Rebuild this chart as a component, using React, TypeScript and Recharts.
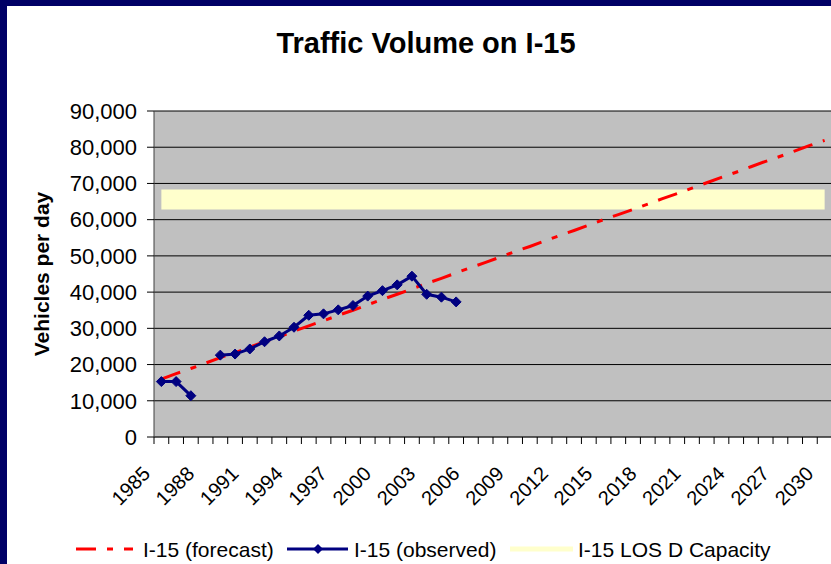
import React from 'react';
import { ComposedChart, Line, XAxis, YAxis, CartesianGrid } from 'recharts';

// ---- Data ----
const years = [
  1985, 1986, 1987, 1988, 1989, 1990, 1991, 1992, 1993, 1994,
  1995, 1996, 1997, 1998, 1999, 2000, 2001, 2002, 2003, 2004,
  2005, 2006, 2007, 2008, 2009, 2010, 2011, 2012, 2013, 2014,
  2015, 2016, 2017, 2018, 2019, 2020, 2021, 2022, 2023, 2024,
  2025, 2026, 2027, 2028, 2029, 2030,
];

const forecast = [
  16000, 17500, 18900, 20400, 21900, 23300, 24800, 26300, 27700, 29200,
  30700, 32100, 33600, 35000, 36500, 38000, 39400, 40900, 42400, 43800,
  45300, 46800, 48200, 49700, 51200, 52600, 54100, 55600, 57000, 58500,
  60000, 61400, 62800, 64300, 65800, 67200, 68700, 70200, 71700, 73100,
  74600, 76100, 77500, 79000, 80500, 81900,
];

const observedYears = [
  1985, 1986, 1987, 1988, 1989, 1990, 1991, 1992, 1993, 1994,
  1995, 1996, 1997, 1998, 1999, 2000, 2001, 2002, 2003, 2004, 2005,
];
const observed: (number | null)[] = [
  15300, 15300, 11400, null, 22600, 22900, 24300, 26300, 27900, 30300,
  33600, 34000, 35100, 36300, 38900, 40400, 42000, 44400, 39400, 38600, 37300,
];

const capacityYears = [1985, 2030];
const capacity = [65600, 65600];

const yTicks = [0, 10000, 20000, 30000, 40000, 50000, 60000, 70000, 80000, 90000];
const xLabelYears = [1985, 1988, 1991, 1994, 1997, 2000, 2003, 2006, 2009, 2012, 2015, 2018, 2021, 2024, 2027, 2030];

const chartTitle = 'Traffic Volume on I-15';
const yAxisTitle = 'Vehicles per day';
const seriesNames = ['I-15 (forecast)', 'I-15 (observed)', 'I-15 LOS D Capacity'];

// ---- Table built from the arrays ----
const data = years.map((year, i) => {
  const oi = observedYears.indexOf(year);
  const ci = capacityYears.indexOf(year);
  return {
    year,
    forecast: forecast[i],
    observed: oi >= 0 ? observed[oi] : null,
    capacity: ci >= 0 ? capacity[ci] : null,
  };
});

// tick marks sit between categories, labels at category centres
const boundaries = years.map((y) => y - 0.5).concat([years[years.length - 1] + 0.5]);
const xTicks = [...boundaries, ...xLabelYears].sort((a, b) => a - b);

const NAVY = '#000080';
const RED = '#FF0000';
const YELLOW = '#FFFFCC';
const FONT = '"Liberation Sans", Arial, Helvetica, sans-serif';
const DASH = '20 11 6 11';

const XTick = (props: any) => {
  const { x, y, payload } = props;
  const v = payload.value as number;
  if (v % 1 !== 0) {
    return <line x1={x} x2={x} y1={y} y2={y + 7} stroke="#000" strokeWidth={1} />;
  }
  if (xLabelYears.includes(v)) {
    return (
      <text
        transform={`translate(${x - 10},${y + 38}) rotate(-45)`}
        textAnchor="end"
        fontSize={20}
        fill="#000"
      >
        {v}
      </text>
    );
  }
  return <g />;
};

const Diamond = (props: any) => {
  const { cx, cy, value } = props;
  if (value == null || cx == null || cy == null) return <g />;
  const r = 5;
  return (
    <polygon
      points={`${cx},${cy - r} ${cx + r},${cy} ${cx},${cy + r} ${cx - r},${cy}`}
      fill={NAVY}
      stroke={NAVY}
      strokeWidth={1}
    />
  );
};

const YLabel = (props: any) => {
  const vb = props.viewBox || {};
  const cy = (vb.y ?? 111) + (vb.height ?? 326) / 2;
  return (
    <text
      x={49}
      y={cy}
      transform={`rotate(-90, 49, ${cy})`}
      textAnchor="middle"
      fontSize={21}
      fontWeight="bold"
      fill="#000"
    >
      {yAxisTitle}
    </text>
  );
};

export default function App() {
  return (
    <div
      style={{
        position: 'absolute',
        left: 0,
        top: 0,
        width: 831,
        height: 564,
        overflow: 'hidden',
        background: '#fff',
        fontFamily: FONT,
      }}
    >
      <ComposedChart
        width={840}
        height={564}
        data={data}
        margin={{ top: 111, right: 8, bottom: 97, left: 0 }}
      >
        <CartesianGrid vertical={false} stroke="#000" strokeWidth={1} fill="#C0C0C0" fillOpacity={1} />
        <XAxis
          dataKey="year"
          type="number"
          domain={[boundaries[0], boundaries[boundaries.length - 1]]}
          allowDataOverflow
          ticks={xTicks}
          interval={0}
          tickLine={false}
          tickSize={0}
          tickMargin={0}
          axisLine={{ stroke: '#404040', strokeWidth: 1 }}
          tick={<XTick />}
          height={30}
        />
        <YAxis
          type="number"
          domain={[0, 90000]}
          ticks={yTicks}
          interval={0}
          width={154}
          tickSize={7}
          tickMargin={10}
          tickLine={{ stroke: '#000' }}
          axisLine={{ stroke: '#404040', strokeWidth: 1 }}
          tick={{ fontSize: 22, fill: '#000' }}
          tickFormatter={(v: number) => v.toLocaleString('en-US')}
          label={<YLabel />}
        />
        <Line
          dataKey="capacity"
          name={seriesNames[2]}
          stroke={YELLOW}
          strokeWidth={20}
          dot={false}
          activeDot={false}
          connectNulls
          isAnimationActive={false}
        />
        <Line
          dataKey="forecast"
          name={seriesNames[0]}
          stroke={RED}
          strokeWidth={3}
          strokeDasharray={DASH}
          dot={false}
          activeDot={false}
          isAnimationActive={false}
        />
        <Line
          dataKey="observed"
          name={seriesNames[1]}
          stroke={NAVY}
          strokeWidth={3}
          dot={<Diamond />}
          activeDot={false}
          connectNulls={false}
          isAnimationActive={false}
        />
      </ComposedChart>

      {/* title + legend overlay */}
      <svg
        width={831}
        height={564}
        style={{ position: 'absolute', left: 0, top: 0, pointerEvents: 'none' }}
      >
        <text x={426} y={53} textAnchor="middle" fontSize={29} fontWeight="bold" fill="#000">
          {chartTitle}
        </text>
        <line x1={76} x2={133} y1={549} y2={549} stroke={RED} strokeWidth={3} strokeDasharray={DASH} />
        <text x={143} y={557} fontSize={21} fill="#000">{seriesNames[0]}</text>
        <line x1={287} x2={348} y1={549} y2={549} stroke={NAVY} strokeWidth={3} />
        <polygon points="318,544 323,549 318,554 313,549" fill={NAVY} />
        <text x={354} y={557} fontSize={21} fill="#000">{seriesNames[1]}</text>
        <line x1={510} x2={573} y1={549} y2={549} stroke={YELLOW} strokeWidth={5} />
        <text x={578} y={557} fontSize={21} fill="#000">{seriesNames[2]}</text>
      </svg>

      {/* navy frame, top and left */}
      <div style={{ position: 'absolute', left: 0, top: 0, width: 831, height: 6, background: '#000066' }} />
      <div style={{ position: 'absolute', left: 0, top: 0, width: 7, height: 564, background: '#000066' }} />
    </div>
  );
}
